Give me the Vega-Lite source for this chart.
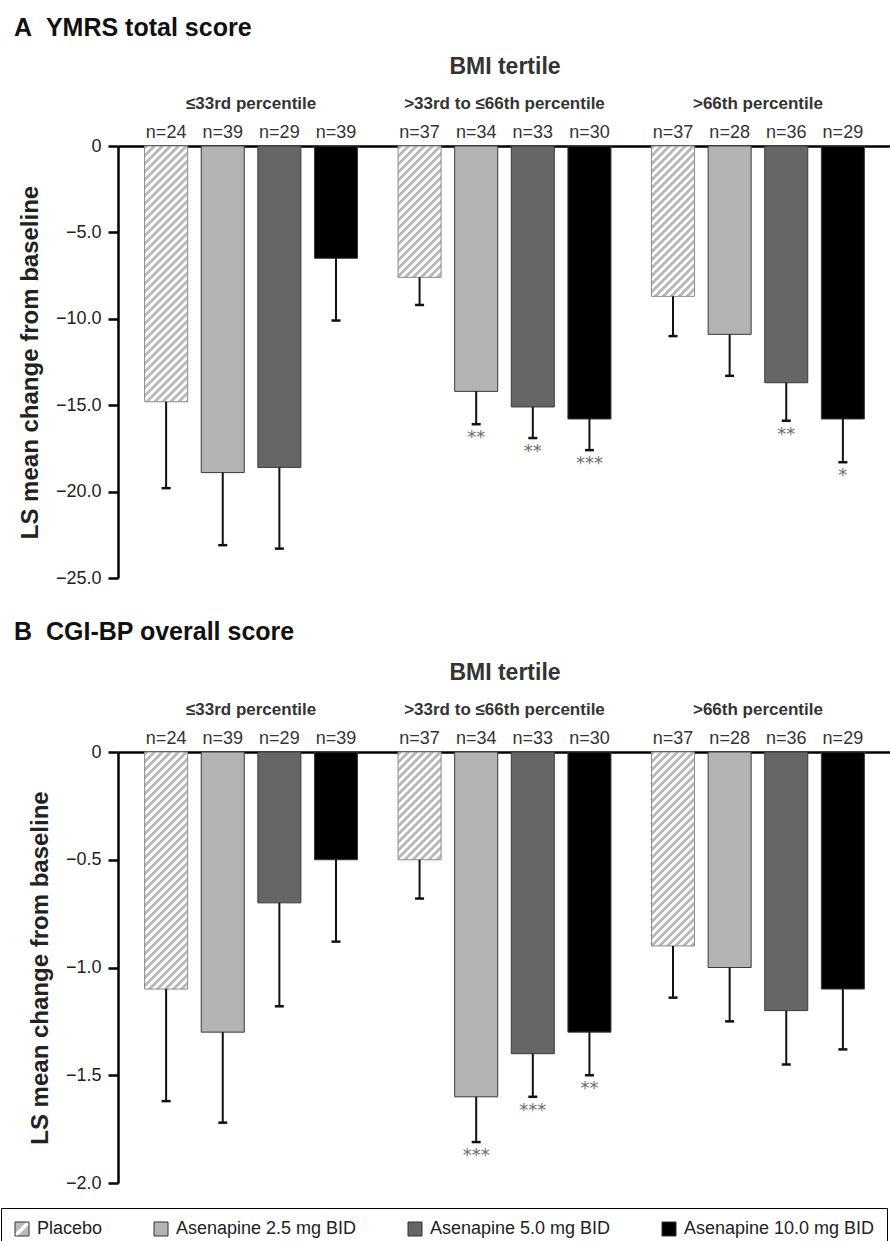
{
  "$schema": "https://vega.github.io/schema/vega-lite/v6.json",
  "padding": {"left": 0, "top": 16, "right": 0, "bottom": 0},
  "background": "white",
  "params": [
    {"name": "hatch", "value": [
      {"offset":0,"color":"#bbb"},
      {"offset":0.0125,"color":"#bbb"},{"offset":0.0125,"color":"#fff"},{"offset":0.025,"color":"#fff"},{"offset":0.025,"color":"#bbb"},
      {"offset":0.0375,"color":"#bbb"},{"offset":0.0375,"color":"#fff"},{"offset":0.05,"color":"#fff"},{"offset":0.05,"color":"#bbb"},
      {"offset":0.0625,"color":"#bbb"},{"offset":0.0625,"color":"#fff"},{"offset":0.075,"color":"#fff"},{"offset":0.075,"color":"#bbb"},
      {"offset":0.0875,"color":"#bbb"},{"offset":0.0875,"color":"#fff"},{"offset":0.1,"color":"#fff"},{"offset":0.1,"color":"#bbb"},
      {"offset":0.1125,"color":"#bbb"},{"offset":0.1125,"color":"#fff"},{"offset":0.125,"color":"#fff"},{"offset":0.125,"color":"#bbb"},
      {"offset":0.1375,"color":"#bbb"},{"offset":0.1375,"color":"#fff"},{"offset":0.15,"color":"#fff"},{"offset":0.15,"color":"#bbb"},
      {"offset":0.1625,"color":"#bbb"},{"offset":0.1625,"color":"#fff"},{"offset":0.175,"color":"#fff"},{"offset":0.175,"color":"#bbb"},
      {"offset":0.1875,"color":"#bbb"},{"offset":0.1875,"color":"#fff"},{"offset":0.2,"color":"#fff"},{"offset":0.2,"color":"#bbb"},
      {"offset":0.2125,"color":"#bbb"},{"offset":0.2125,"color":"#fff"},{"offset":0.225,"color":"#fff"},{"offset":0.225,"color":"#bbb"},
      {"offset":0.2375,"color":"#bbb"},{"offset":0.2375,"color":"#fff"},{"offset":0.25,"color":"#fff"},{"offset":0.25,"color":"#bbb"},
      {"offset":0.2625,"color":"#bbb"},{"offset":0.2625,"color":"#fff"},{"offset":0.275,"color":"#fff"},{"offset":0.275,"color":"#bbb"},
      {"offset":0.2875,"color":"#bbb"},{"offset":0.2875,"color":"#fff"},{"offset":0.3,"color":"#fff"},{"offset":0.3,"color":"#bbb"},
      {"offset":0.3125,"color":"#bbb"},{"offset":0.3125,"color":"#fff"},{"offset":0.325,"color":"#fff"},{"offset":0.325,"color":"#bbb"},
      {"offset":0.3375,"color":"#bbb"},{"offset":0.3375,"color":"#fff"},{"offset":0.35,"color":"#fff"},{"offset":0.35,"color":"#bbb"},
      {"offset":0.3625,"color":"#bbb"},{"offset":0.3625,"color":"#fff"},{"offset":0.375,"color":"#fff"},{"offset":0.375,"color":"#bbb"},
      {"offset":0.3875,"color":"#bbb"},{"offset":0.3875,"color":"#fff"},{"offset":0.4,"color":"#fff"},{"offset":0.4,"color":"#bbb"},
      {"offset":0.4125,"color":"#bbb"},{"offset":0.4125,"color":"#fff"},{"offset":0.425,"color":"#fff"},{"offset":0.425,"color":"#bbb"},
      {"offset":0.4375,"color":"#bbb"},{"offset":0.4375,"color":"#fff"},{"offset":0.45,"color":"#fff"},{"offset":0.45,"color":"#bbb"},
      {"offset":0.4625,"color":"#bbb"},{"offset":0.4625,"color":"#fff"},{"offset":0.475,"color":"#fff"},{"offset":0.475,"color":"#bbb"},
      {"offset":0.4875,"color":"#bbb"},{"offset":0.4875,"color":"#fff"},{"offset":0.5,"color":"#fff"},{"offset":0.5,"color":"#bbb"},
      {"offset":0.5125,"color":"#bbb"},{"offset":0.5125,"color":"#fff"},{"offset":0.525,"color":"#fff"},{"offset":0.525,"color":"#bbb"},
      {"offset":0.5375,"color":"#bbb"},{"offset":0.5375,"color":"#fff"},{"offset":0.55,"color":"#fff"},{"offset":0.55,"color":"#bbb"},
      {"offset":0.5625,"color":"#bbb"},{"offset":0.5625,"color":"#fff"},{"offset":0.575,"color":"#fff"},{"offset":0.575,"color":"#bbb"},
      {"offset":0.5875,"color":"#bbb"},{"offset":0.5875,"color":"#fff"},{"offset":0.6,"color":"#fff"},{"offset":0.6,"color":"#bbb"},
      {"offset":0.6125,"color":"#bbb"},{"offset":0.6125,"color":"#fff"},{"offset":0.625,"color":"#fff"},{"offset":0.625,"color":"#bbb"},
      {"offset":0.6375,"color":"#bbb"},{"offset":0.6375,"color":"#fff"},{"offset":0.65,"color":"#fff"},{"offset":0.65,"color":"#bbb"},
      {"offset":0.6625,"color":"#bbb"},{"offset":0.6625,"color":"#fff"},{"offset":0.675,"color":"#fff"},{"offset":0.675,"color":"#bbb"},
      {"offset":0.6875,"color":"#bbb"},{"offset":0.6875,"color":"#fff"},{"offset":0.7,"color":"#fff"},{"offset":0.7,"color":"#bbb"},
      {"offset":0.7125,"color":"#bbb"},{"offset":0.7125,"color":"#fff"},{"offset":0.725,"color":"#fff"},{"offset":0.725,"color":"#bbb"},
      {"offset":0.7375,"color":"#bbb"},{"offset":0.7375,"color":"#fff"},{"offset":0.75,"color":"#fff"},{"offset":0.75,"color":"#bbb"},
      {"offset":0.7625,"color":"#bbb"},{"offset":0.7625,"color":"#fff"},{"offset":0.775,"color":"#fff"},{"offset":0.775,"color":"#bbb"},
      {"offset":0.7875,"color":"#bbb"},{"offset":0.7875,"color":"#fff"},{"offset":0.8,"color":"#fff"},{"offset":0.8,"color":"#bbb"},
      {"offset":0.8125,"color":"#bbb"},{"offset":0.8125,"color":"#fff"},{"offset":0.825,"color":"#fff"},{"offset":0.825,"color":"#bbb"},
      {"offset":0.8375,"color":"#bbb"},{"offset":0.8375,"color":"#fff"},{"offset":0.85,"color":"#fff"},{"offset":0.85,"color":"#bbb"},
      {"offset":0.8625,"color":"#bbb"},{"offset":0.8625,"color":"#fff"},{"offset":0.875,"color":"#fff"},{"offset":0.875,"color":"#bbb"},
      {"offset":0.8875,"color":"#bbb"},{"offset":0.8875,"color":"#fff"},{"offset":0.9,"color":"#fff"},{"offset":0.9,"color":"#bbb"},
      {"offset":0.9125,"color":"#bbb"},{"offset":0.9125,"color":"#fff"},{"offset":0.925,"color":"#fff"},{"offset":0.925,"color":"#bbb"},
      {"offset":0.9375,"color":"#bbb"},{"offset":0.9375,"color":"#fff"},{"offset":0.95,"color":"#fff"},{"offset":0.95,"color":"#bbb"},
      {"offset":1,"color":"#bbb"}
    ]}
  ],
  "datasets": {
    "bars": [
      {"panel":"A","group":"≤33rd percentile","treatment":"Placebo","n":24,"value":-14.8,"err":-19.8,"sig":""},
      {"panel":"A","group":"≤33rd percentile","treatment":"Asenapine 2.5 mg BID","n":39,"value":-18.9,"err":-23.1,"sig":""},
      {"panel":"A","group":"≤33rd percentile","treatment":"Asenapine 5.0 mg BID","n":29,"value":-18.6,"err":-23.3,"sig":""},
      {"panel":"A","group":"≤33rd percentile","treatment":"Asenapine 10.0 mg BID","n":39,"value":-6.5,"err":-10.1,"sig":""},
      {"panel":"A","group":">33rd to ≤66th percentile","treatment":"Placebo","n":37,"value":-7.6,"err":-9.2,"sig":""},
      {"panel":"A","group":">33rd to ≤66th percentile","treatment":"Asenapine 2.5 mg BID","n":34,"value":-14.2,"err":-16.1,"sig":"**"},
      {"panel":"A","group":">33rd to ≤66th percentile","treatment":"Asenapine 5.0 mg BID","n":33,"value":-15.1,"err":-16.9,"sig":"**"},
      {"panel":"A","group":">33rd to ≤66th percentile","treatment":"Asenapine 10.0 mg BID","n":30,"value":-15.8,"err":-17.6,"sig":"***"},
      {"panel":"A","group":">66th percentile","treatment":"Placebo","n":37,"value":-8.7,"err":-11.0,"sig":""},
      {"panel":"A","group":">66th percentile","treatment":"Asenapine 2.5 mg BID","n":28,"value":-10.9,"err":-13.3,"sig":""},
      {"panel":"A","group":">66th percentile","treatment":"Asenapine 5.0 mg BID","n":36,"value":-13.7,"err":-15.9,"sig":"**"},
      {"panel":"A","group":">66th percentile","treatment":"Asenapine 10.0 mg BID","n":29,"value":-15.8,"err":-18.3,"sig":"*"},
      {"panel":"B","group":"≤33rd percentile","treatment":"Placebo","n":24,"value":-1.1,"err":-1.62,"sig":""},
      {"panel":"B","group":"≤33rd percentile","treatment":"Asenapine 2.5 mg BID","n":39,"value":-1.3,"err":-1.72,"sig":""},
      {"panel":"B","group":"≤33rd percentile","treatment":"Asenapine 5.0 mg BID","n":29,"value":-0.7,"err":-1.18,"sig":""},
      {"panel":"B","group":"≤33rd percentile","treatment":"Asenapine 10.0 mg BID","n":39,"value":-0.5,"err":-0.88,"sig":""},
      {"panel":"B","group":">33rd to ≤66th percentile","treatment":"Placebo","n":37,"value":-0.5,"err":-0.68,"sig":""},
      {"panel":"B","group":">33rd to ≤66th percentile","treatment":"Asenapine 2.5 mg BID","n":34,"value":-1.6,"err":-1.81,"sig":"***"},
      {"panel":"B","group":">33rd to ≤66th percentile","treatment":"Asenapine 5.0 mg BID","n":33,"value":-1.4,"err":-1.6,"sig":"***"},
      {"panel":"B","group":">33rd to ≤66th percentile","treatment":"Asenapine 10.0 mg BID","n":30,"value":-1.3,"err":-1.5,"sig":"**"},
      {"panel":"B","group":">66th percentile","treatment":"Placebo","n":37,"value":-0.9,"err":-1.14,"sig":""},
      {"panel":"B","group":">66th percentile","treatment":"Asenapine 2.5 mg BID","n":28,"value":-1.0,"err":-1.25,"sig":""},
      {"panel":"B","group":">66th percentile","treatment":"Asenapine 5.0 mg BID","n":36,"value":-1.2,"err":-1.45,"sig":""},
      {"panel":"B","group":">66th percentile","treatment":"Asenapine 10.0 mg BID","n":29,"value":-1.1,"err":-1.38,"sig":""}
    ]
  },
  "config": {"view": {"stroke": null}, "font": "Liberation Sans"},
  "spacing": 33,
  "resolve": {"scale": {"fill": "independent", "y": "independent"}},
  "vconcat": [
    {
      "title": {"text": "A\u00a0\u00a0YMRS total score", "anchor": "start", "frame": "group", "dx": -104, "offset": 14, "fontSize": 25, "font": "Liberation Sans", "fontWeight": "bold", "color": "#111"},
      "width": 773,
      "height": 432,
      "data": {"name": "bars"},
      "transform": [{"filter": "datum.panel == 'A'"}],
      "encoding": {
        "x": {"field": "group", "type": "nominal", "sort": ["≤33rd percentile", ">33rd to ≤66th percentile", ">66th percentile"],
              "scale": {"paddingInner": 0.16, "paddingOuter": 0.105},
              "axis": {"orient": "top", "domain": true, "domainColor": "#000", "domainWidth": 2.5, "ticks": false, "tickSize": 0, "labelAngle": 0, "labelLimit": 400, "labelPadding": 34, "labelFontSize": 17, "labelFontWeight": "bold", "labelColor": "#333", "labelFont": "Liberation Sans", "titleFontSize": 23, "titleFontWeight": "bold", "titleColor": "#333", "titleFont": "Liberation Sans", "titlePadding": 16},
              "title": "BMI tertile"},
        "xOffset": {"field": "treatment", "type": "nominal", "sort": ["Placebo", "Asenapine 2.5 mg BID", "Asenapine 5.0 mg BID", "Asenapine 10.0 mg BID"], "scale": {"paddingInner": 0.24, "paddingOuter": 0}}
      },
      "layer": [
        {
          "transform": [{"filter": "datum.treatment != 'Placebo'"}],
          "mark": {"type": "bar", "stroke": "#3a3a3a", "strokeWidth": 1},
          "encoding": {
            "y": {"field": "value", "type": "quantitative", "scale": {"domain": [-25, 0], "nice": false},
                  "axis": {"values": [0, -5, -10, -15, -20, -25], "labelExpr": "datum.value == 0 ? '0' : replace(format(datum.value, '.1f'), '-', '\u2212')", "grid": false, "domainColor": "#000", "domainWidth": 2.5, "tickColor": "#000", "tickWidth": 2.5, "tickSize": 10, "labelPadding": 7, "labelFontSize": 18, "labelFont": "Liberation Sans", "labelColor": "#222", "titleFontSize": 24, "titleFont": "Liberation Sans", "titleFontWeight": "bold", "titleColor": "#222", "titlePadding": 13},
                  "title": "LS mean change from baseline"},
            "fill": {"field": "treatment", "type": "nominal",
                     "scale": {"domain": ["Placebo", "Asenapine 2.5 mg BID", "Asenapine 5.0 mg BID", "Asenapine 10.0 mg BID"],
                               "range": ["#d0d0d0", "#b3b3b3", "#666666", "#000000"]},
                     "legend": null}
          }
        },
        {
          "transform": [{"filter": "datum.treatment == 'Placebo'"}],
          "mark": {"type": "bar", "stroke": "#8a8a8a", "strokeWidth": 1,
                   "fill": {"expr": "{gradient: 'linear', x1: 0, y1: 0, x2: 320*43/(1849+pow(datum.value*17.28,2)), y2: -320*datum.value*17.28/(1849+pow(datum.value*17.28,2)), stops: hatch}"}},
          "encoding": {"y": {"field": "value", "type": "quantitative"}}
        },
        {
          "mark": {"type": "rule", "strokeWidth": 2, "color": "#111"},
          "encoding": {"y": {"field": "value", "type": "quantitative"}, "y2": {"field": "err"}}
        },
        {
          "mark": {"type": "tick", "thickness": 2.5, "size": 9, "color": "#111", "opacity": 1},
          "encoding": {"y": {"field": "err", "type": "quantitative"}}
        },
        {
          "transform": [{"calculate": "'n=' + datum.n", "as": "nlab"}],
          "mark": {"type": "text", "baseline": "alphabetic", "dy": -8, "fontSize": 18, "font": "Liberation Sans", "color": "#333"},
          "encoding": {"y": {"datum": 0}, "text": {"field": "nlab"}}
        },
        {
          "mark": {"type": "text", "baseline": "top", "dy": 5, "fontSize": 18, "font": "DejaVu Sans", "color": "#6e6e6e"},
          "encoding": {"y": {"field": "err", "type": "quantitative"}, "text": {"field": "sig"}}
        }
      ]
    },
    {
      "title": {"text": "B\u00a0\u00a0CGI-BP overall score", "anchor": "start", "frame": "group", "dx": -104, "offset": 16, "fontSize": 25, "font": "Liberation Sans", "fontWeight": "bold", "color": "#111"},
      "width": 773,
      "height": 431,
      "data": {"name": "bars"},
      "transform": [{"filter": "datum.panel == 'B'"}],
      "encoding": {
        "x": {"field": "group", "type": "nominal", "sort": ["≤33rd percentile", ">33rd to ≤66th percentile", ">66th percentile"],
              "scale": {"paddingInner": 0.16, "paddingOuter": 0.105},
              "axis": {"orient": "top", "domain": true, "domainColor": "#000", "domainWidth": 2.5, "ticks": false, "tickSize": 0, "labelAngle": 0, "labelLimit": 400, "labelPadding": 34, "labelFontSize": 17, "labelFontWeight": "bold", "labelColor": "#333", "labelFont": "Liberation Sans", "titleFontSize": 23, "titleFontWeight": "bold", "titleColor": "#333", "titleFont": "Liberation Sans", "titlePadding": 16},
              "title": "BMI tertile"},
        "xOffset": {"field": "treatment", "type": "nominal", "sort": ["Placebo", "Asenapine 2.5 mg BID", "Asenapine 5.0 mg BID", "Asenapine 10.0 mg BID"], "scale": {"paddingInner": 0.24, "paddingOuter": 0}}
      },
      "layer": [
        {
          "transform": [{"filter": "datum.treatment != 'Placebo'"}],
          "mark": {"type": "bar", "stroke": "#3a3a3a", "strokeWidth": 1},
          "encoding": {
            "y": {"field": "value", "type": "quantitative", "scale": {"domain": [-2, 0], "nice": false},
                  "axis": {"values": [0, -0.5, -1, -1.5, -2], "labelExpr": "datum.value == 0 ? '0' : replace(format(datum.value, '.1f'), '-', '\u2212')", "grid": false, "domainColor": "#000", "domainWidth": 2.5, "tickColor": "#000", "tickWidth": 2.5, "tickSize": 10, "labelPadding": 7, "labelFontSize": 18, "labelFont": "Liberation Sans", "labelColor": "#222", "titleFontSize": 24, "titleFont": "Liberation Sans", "titleFontWeight": "bold", "titleColor": "#222", "titlePadding": 13},
                  "title": "LS mean change from baseline"},
            "fill": {"field": "treatment", "type": "nominal",
                     "scale": {"domain": ["Placebo", "Asenapine 2.5 mg BID", "Asenapine 5.0 mg BID", "Asenapine 10.0 mg BID"],
                               "range": [{"expr": "{gradient: 'linear', x1: 0, y1: 0, x2: 1, y2: 1, stops: [{offset: 0, color: '#bbb'}, {offset: 0.42, color: '#bbb'}, {offset: 0.42, color: '#fff'}, {offset: 0.58, color: '#fff'}, {offset: 0.58, color: '#bbb'}, {offset: 1, color: '#bbb'}]}"}, "#b3b3b3", "#666666", "#000000"]},
                     "legend": {"orient": "none", "legendX": -117, "legendY": 456, "direction": "horizontal", "columns": 4, "title": null, "symbolType": "square", "symbolSize": 196, "symbolStrokeColor": "#333", "symbolStrokeWidth": 1, "labelFontSize": 18, "labelFont": "Liberation Sans", "labelColor": "#222", "labelOffset": 6, "columnPadding": 49, "strokeColor": "#000", "fillColor": "#fff", "padding": 12, "gridAlign": "none", "labelLimit": 300}}
          }
        },
        {
          "transform": [{"filter": "datum.treatment == 'Placebo'"}],
          "mark": {"type": "bar", "stroke": "#8a8a8a", "strokeWidth": 1,
                   "fill": {"expr": "{gradient: 'linear', x1: 0, y1: 0, x2: 320*43/(1849+pow(datum.value*215.5,2)), y2: -320*datum.value*215.5/(1849+pow(datum.value*215.5,2)), stops: hatch}"}},
          "encoding": {"y": {"field": "value", "type": "quantitative"}}
        },
        {
          "mark": {"type": "rule", "strokeWidth": 2, "color": "#111"},
          "encoding": {"y": {"field": "value", "type": "quantitative"}, "y2": {"field": "err"}}
        },
        {
          "mark": {"type": "tick", "thickness": 2.5, "size": 9, "color": "#111", "opacity": 1},
          "encoding": {"y": {"field": "err", "type": "quantitative"}}
        },
        {
          "transform": [{"calculate": "'n=' + datum.n", "as": "nlab"}],
          "mark": {"type": "text", "baseline": "alphabetic", "dy": -8, "fontSize": 18, "font": "Liberation Sans", "color": "#333"},
          "encoding": {"y": {"datum": 0}, "text": {"field": "nlab"}}
        },
        {
          "mark": {"type": "text", "baseline": "top", "dy": 5, "fontSize": 18, "font": "DejaVu Sans", "color": "#6e6e6e"},
          "encoding": {"y": {"field": "err", "type": "quantitative"}, "text": {"field": "sig"}}
        }
      ]
    }
  ]
}
